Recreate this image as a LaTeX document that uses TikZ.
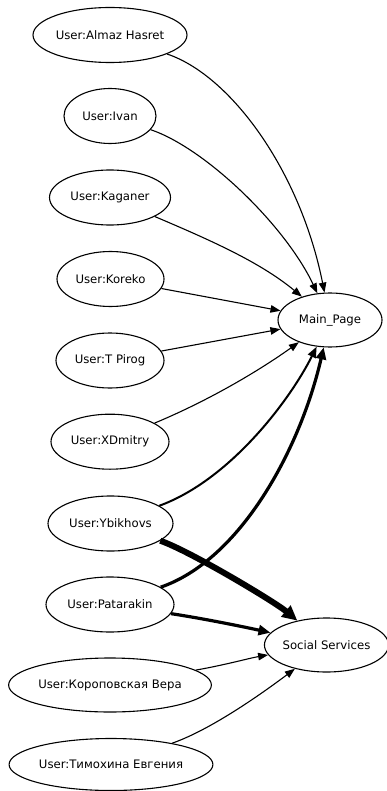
\documentclass[tikz,border=0pt]{standalone}
\usepackage{fontspec}
\setmainfont{DejaVu Sans}
\usetikzlibrary{shapes.geometric,arrows.meta}
\begin{document}
\begin{tikzpicture}[x=1pt,y=-1pt,
  nd/.style={ellipse,draw,line width=1.1pt,inner sep=0pt,font=\fontsize{11.7}{14}\selectfont},
  e1/.style={line width=1.1pt,-{Triangle[length=10pt,width=7.5pt]}},
  e2/.style={line width=2pt,-{Triangle[length=11pt,width=8.5pt]}},
  e3/.style={line width=3.2pt,-{Triangle[length=12pt,width=10pt]}},
  e6/.style={line width=6pt,-{Triangle[length=15pt,width=14pt]}}]
\useasboundingbox (0,0) rectangle (387,791);
\node[nd,minimum width=154pt,minimum height=55pt] (almaz) at (110,35) {User:Almaz Hasret};
\node[nd,minimum width=92pt,minimum height=55pt] (ivan) at (110,116) {User:Ivan};
\node[nd,minimum width=121pt,minimum height=55pt] (kag) at (110,197.5) {User:Kaganer};
\node[nd,minimum width=107pt,minimum height=55pt] (kor) at (110.5,279) {User:Koreko};
\node[nd,minimum width=108pt,minimum height=55pt] (tp) at (110,360.5) {User:T Pirog};
\node[nd,minimum width=118pt,minimum height=55pt] (xd) at (110,441.7) {User:XDmitry};
\node[nd,minimum width=125pt,minimum height=55pt] (yb) at (110.5,523.5) {User:Ybikhovs};
\node[nd,minimum width=128pt,minimum height=55pt] (pat) at (110,604.5) {User:Patarakin};
\node[nd,minimum width=194pt,minimum height=54pt] (kv) at (110,685) {User:Короповская Вера};
\node[nd,minimum width=200pt,minimum height=52pt] (te) at (111,764.5) {User:Тимохина Евгения};
\node[nd,minimum width=104pt,minimum height=54pt] (main) at (330,320) {Main\_Page};
\node[nd,minimum width=121pt,minimum height=54pt] (soc) at (326.5,645) {Social Services};
\draw[e1] (almaz) .. controls (230,75) and (300,170) .. (main);
\draw[e1] (ivan) .. controls (205,148) and (285,225) .. (main);
\draw[e1] (kag) .. controls (210,240) and (260,262) .. (main);
\draw[e1] (kor) -- (main);
\draw[e1] (tp) -- (main);
\draw[e1] (xd) .. controls (210,400) and (260,370) .. (main);
\draw[e2] (yb) .. controls (230,480) and (290,400) .. (main);
\draw[e3] (pat) .. controls (240,560) and (300,450) .. (main);
\draw[e6] (yb) .. controls (190,551) and (275,602) .. (soc);
\draw[e3] (pat) .. controls (200,618) and (240,626) .. (soc);
\draw[e1] (kv) .. controls (225,665) and (250,658) .. (soc);
\draw[e1] (te) .. controls (210,730) and (260,695) .. (soc);
\end{tikzpicture}
\end{document}
